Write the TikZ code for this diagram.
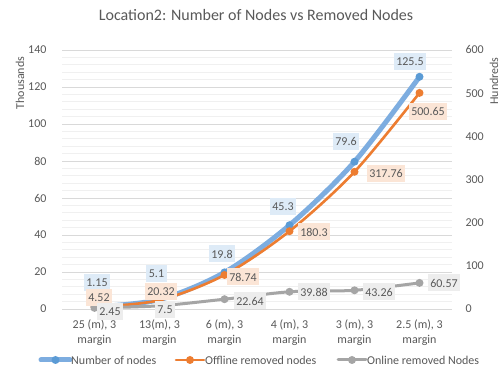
\documentclass[tikz,border=0pt]{standalone}
\usepackage{fontspec}
\setmainfont{Carlito}
\usepackage{tikz}
\usetikzlibrary{calc}
\definecolor{nodesline}{RGB}{125,173,224}
\definecolor{nodesmark}{RGB}{91,155,213}
\definecolor{offorange}{RGB}{237,125,49}
\definecolor{ongray}{RGB}{165,165,165}
\definecolor{bluefill}{RGB}{222,235,247}
\definecolor{orangefill}{RGB}{251,229,214}
\definecolor{grayfill}{RGB}{237,237,237}
\definecolor{txtgray}{RGB}{89,89,89}
\definecolor{majorgrid}{RGB}{217,217,217}
\definecolor{minorgrid}{RGB}{240,240,240}
\tikzset{
    point/.style={circle,fill,minimum size=8pt,inner sep=0pt,outer sep=0pt},
    vallabel/.style={font=\fontsize{12}{12}\selectfont,text=txtgray,inner sep=2.5pt,minimum height=17pt},
    ticklabel/.style={font=\fontsize{12}{12}\selectfont,text=txtgray},
    catlabel/.style={font=\fontsize{12}{15}\selectfont,text=txtgray,align=center},
    every label/.append style={black}
}

\begin{document}
\begin{tikzpicture}[x=1pt,y=1pt]
    \useasboundingbox[fill=white] (0,0) rectangle (503,371);
    % grid
    \foreach \v in {4,8,...,136} {
        \draw[minorgrid,line width=0.8pt] (62,{62+1.85*\v}) -- (452,{62+1.85*\v});
    }
    \foreach \v in {0,20,...,140} {
        \draw[majorgrid,line width=0.8pt] (62,{62+1.85*\v}) -- (452,{62+1.85*\v});
        \node[ticklabel,anchor=east] at (50,{62+1.85*\v}) {\v};
    }
    \foreach \h in {0,100,...,600} {
        \node[ticklabel,anchor=west] at (462,{62+0.43167*\h}) {\h};
    }
    \node[ticklabel,rotate=90] (ylableft) at (20,288) {Thousands};
    \node[ticklabel,rotate=90] (ylabright) at (494,290) {Hundreds};
    \node[text=txtgray,font=\fontsize{16}{16}\selectfont] (title) at (256,356) {Location2: Number of Nodes vs Removed Nodes};

    % categories
    \node[catlabel] (c1) at (94.5,38.5) {25 (m), 3\\margin};
    \node[catlabel] (c2) at (159.5,38.5) {13(m), 3\\margin};
    \node[catlabel] (c3) at (224.5,38.5) {6 (m), 3\\margin};
    \node[catlabel] (c4) at (289.5,38.5) {4 (m), 3\\margin};
    \node[catlabel] (c5) at (354.5,38.5) {3 (m), 3\\margin};
    \node[catlabel] (c6) at (419.5,38.5) {2.5 (m), 3\\margin};

    % number of nodes
    \coordinate (n1) at (94.5,64.1);
    \coordinate (n2) at (159.5,71.4);
    \coordinate (n3) at (224.5,98.6);
    \coordinate (n4) at (289.5,145.8);
    \coordinate (n5) at (354.5,209.3);
    \coordinate (n6) at (419.5,294.2);
    \draw[nodesline,line width=5pt,line cap=round] plot[smooth,tension=0.5] coordinates {(n1) (n2) (n3) (n4) (n5) (n6)};
    \foreach \p in {n1,n2,n3,n4,n5,n6} \node[point,nodesmark] at (\p) {};

    % offline removed
    \coordinate (f1) at (94.5,64.0);
    \coordinate (f2) at (159.5,70.8);
    \coordinate (f3) at (224.5,96.0);
    \coordinate (f4) at (289.5,139.8);
    \coordinate (f5) at (354.5,199.2);
    \coordinate (f6) at (419.5,278.1);
    \draw[offorange,line width=2.6pt,line cap=round] plot[smooth,tension=0.5] coordinates {(f1) (f2) (f3) (f4) (f5) (f6)};
    \foreach \p in {f1,f2,f3,f4,f5,f6} \node[point,offorange] at (\p) {};

    % online removed
    \coordinate (g1) at (94.5,63.1);
    \coordinate (g2) at (159.5,65.2);
    \coordinate (g3) at (224.5,71.8);
    \coordinate (g4) at (289.5,79.2);
    \coordinate (g5) at (354.5,80.7);
    \coordinate (g6) at (419.5,88.1);
    \draw[ongray,line width=3pt,line cap=round] plot[smooth,tension=0.5] coordinates {(g1) (g2) (g3) (g4) (g5) (g6)};
    \foreach \p in {g1,g2,g3,g4,g5,g6} \node[point,ongray] at (\p) {};

    % value labels
    \node[vallabel,fill=bluefill] (ln1) at (97,88.5) {1.15};
    \node[vallabel,fill=bluefill] (ln2) at (156.5,97.5) {5.1};
    \node[vallabel,fill=bluefill] (ln3) at (222,117) {19.8};
    \node[vallabel,fill=bluefill] (ln4) at (283,164) {45.3};
    \node[vallabel,fill=bluefill] (ln5) at (346,229) {79.6};
    \node[vallabel,fill=bluefill] (ln6) at (410,309) {125.5};
    \node[vallabel,fill=orangefill] (lf1) at (99,73) {4.52};
    \node[vallabel,fill=orangefill] (lf2) at (161,79) {20.32};
    \node[vallabel,fill=orangefill] (lf3) at (243,94) {78.74};
    \node[vallabel,fill=orangefill] (lf4) at (314,139) {180.3};
    \node[vallabel,fill=orangefill] (lf5) at (386,197) {317.76};
    \node[vallabel,fill=orangefill] (lf6) at (428,259) {500.65};
    \node[vallabel,fill=grayfill] (lg1) at (110,59) {2.45};
    \node[vallabel,fill=grayfill] (lg2) at (165,61) {7.5};
    \node[vallabel,fill=grayfill] (lg3) at (250,70) {22.64};
    \node[vallabel,fill=grayfill] (lg4) at (314,79) {39.88};
    \node[vallabel,fill=grayfill] (lg5) at (379,79) {43.26};
    \node[vallabel,fill=grayfill] (lg6) at (444,88) {60.57};

    % legend
    \coordinate (k1a) at (41,11);
    \coordinate (k1b) at (70,11);
    \draw[nodesline,line width=5pt,line cap=round] (k1a) -- (k1b);
    \node[point,nodesmark] at ($(k1a)!0.5!(k1b)$) {};
    \node[ticklabel,anchor=west,inner sep=1pt] (key1) at (k1b) {Number of nodes};
    \coordinate (k2a) at (176,11);
    \coordinate (k2b) at (204,11);
    \draw[offorange,line width=2.6pt,line cap=round] (k2a) -- (k2b);
    \node[point,offorange] at ($(k2a)!0.5!(k2b)$) {};
    \node[ticklabel,anchor=west,inner sep=1pt] (key2) at (k2b) {Offline removed nodes};
    \coordinate (k3a) at (338,11);
    \coordinate (k3b) at (366,11);
    \draw[ongray,line width=3pt,line cap=round] (k3a) -- (k3b);
    \node[point,ongray] at ($(k3a)!0.5!(k3b)$) {};
    \node[ticklabel,anchor=west,inner sep=1pt] (key3) at (k3b) {Online removed Nodes};
\end{tikzpicture}
\end{document}
